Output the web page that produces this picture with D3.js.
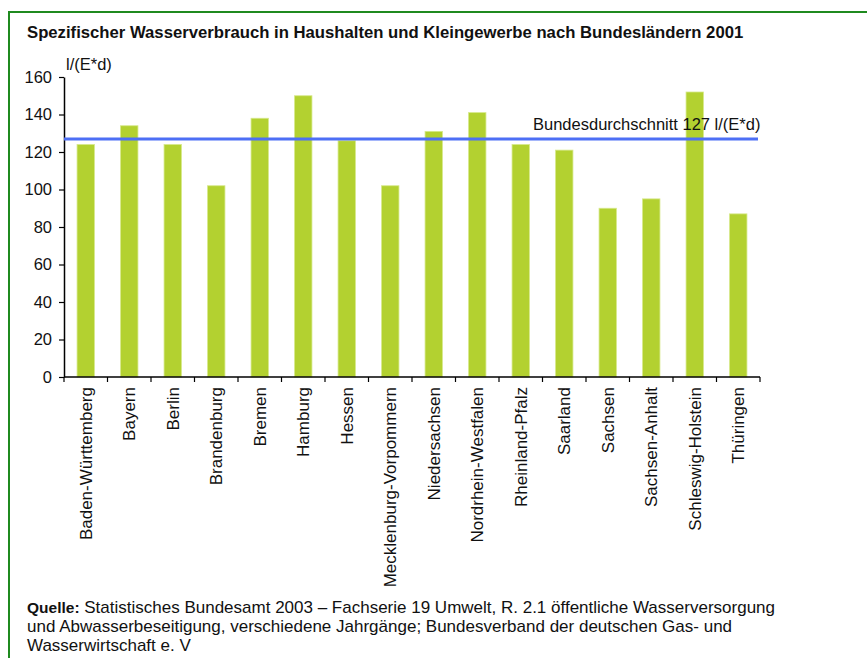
<!DOCTYPE html>
<html>
<head>
<meta charset="utf-8">
<script src="https://cdn.jsdelivr.net/npm/d3@7"></script>
<style>
  body { margin: 0; background: #fff; }
  svg { display: block; font-family: "Liberation Sans", Arial, sans-serif; }
</style>
</head>
<body>
<div id="chart"></div>
<script>
// data
const laender = ["Baden-Württemberg", "Bayern", "Berlin", "Brandenburg", "Bremen", "Hamburg", "Hessen",
  "Mecklenburg-Vorpommern", "Niedersachsen", "Nordrhein-Westfalen", "Rheinland-Pfalz", "Saarland",
  "Sachsen", "Sachsen-Anhalt", "Schleswig-Holstein", "Thüringen"];
const verbrauch = [124, 134, 124, 102, 138, 150, 126, 102, 131, 141, 124, 121, 90, 95, 152, 87];
const durchschnitt = 127;
const yTicks = [0, 20, 40, 60, 80, 100, 120, 140, 160];

const width = 867, height = 658;
const margin = {left: 64, right: 107, top: 77, bottom: 280};

const svg = d3.select("#chart").append("svg")
  .attr("width", width)
  .attr("height", height);

// green frame (top + left edge only visible)
svg.append("line").attr("x1", 8).attr("x2", width).attr("y1", 12).attr("y2", 12)
  .attr("stroke", "#1f8a1f").attr("stroke-width", 2);
svg.append("line").attr("x1", 9).attr("x2", 9).attr("y1", 12).attr("y2", height)
  .attr("stroke", "#1f8a1f").attr("stroke-width", 2);

svg.append("text")
  .attr("x", 27).attr("y", 38)
  .attr("font-size", "16.7px")
  .attr("font-weight", "bold")
  .attr("fill", "#111")
  .text("Spezifischer Wasserverbrauch in Haushalten und Kleingewerbe nach Bundesländern 2001");

const x = d3.scaleBand()
  .domain(laender)
  .range([margin.left, width - margin.right])
  .paddingInner(0.6)
  .paddingOuter(0.3);

const y = d3.scaleLinear()
  .domain([0, 160])
  .range([height - margin.bottom - 1, margin.top]);

// bars
svg.append("g")
  .selectAll("rect")
  .data(verbrauch)
  .join("rect")
  .attr("x", (d, i) => x(laender[i]))
  .attr("y", d => y(d))
  .attr("width", x.bandwidth())
  .attr("height", d => y(0) - y(d))
  .attr("fill", "#b3d130")
  .attr("stroke", "#d6e98a")
  .attr("stroke-width", 0.8);

// y axis
const gY = svg.append("g")
  .attr("transform", "translate(" + margin.left + ",0)")
  .call(d3.axisLeft(y).tickValues(yTicks).tickSize(5).tickSizeOuter(0));
gY.select(".domain").attr("stroke", "#000").attr("stroke-width", 1.5);
gY.selectAll(".tick line").attr("stroke", "#000").attr("stroke-width", 1.2);
gY.selectAll(".tick text")
  .attr("x", -12)
  .attr("font-size", "16.5px")
  .attr("font-family", "Liberation Sans, Arial, sans-serif")
  .attr("fill", "#111");

svg.append("text")
  .attr("x", 66).attr("y", 70)
  .attr("font-size", "16.5px")
  .attr("fill", "#111")
  .text("l/(E*d)");

// x axis, ticks between categories
const gX = svg.append("g")
  .attr("transform", "translate(0," + y(0) + ")");
gX.append("line")
  .attr("x1", margin.left).attr("x2", width - margin.right)
  .attr("stroke", "#000").attr("stroke-width", 1.5);
const tickPos = d3.range(laender.length + 1).map(i => margin.left + i * (width - margin.left - margin.right) / laender.length);
gX.selectAll(".tk")
  .data(tickPos)
  .join("line")
  .attr("class", "tk")
  .attr("x1", d => d).attr("x2", d => d)
  .attr("y1", 0).attr("y2", 5)
  .attr("stroke", "#000").attr("stroke-width", 1.2);
gX.selectAll(".lbl")
  .data(laender)
  .join("text")
  .attr("class", "lbl")
  .attr("transform", d => "translate(" + (x(d) + x.bandwidth() / 2 + 6) + ",10) rotate(-90)")
  .attr("text-anchor", "end")
  .attr("font-size", "17px")
  .attr("fill", "#111")
  .text(d => d);

// average line
svg.append("line")
  .attr("x1", margin.left).attr("x2", width - margin.right - 2)
  .attr("y1", y(durchschnitt)).attr("y2", y(durchschnitt))
  .attr("stroke", "#4d6ff5")
  .attr("stroke-width", 3);
svg.append("text")
  .attr("x", 533).attr("y", y(durchschnitt) - 9)
  .attr("font-size", "16.5px")
  .attr("fill", "#111")
  .text("Bundesdurchschnitt " + durchschnitt + " l/(E*d)");

// source
const quelle = svg.append("g")
  .attr("font-family", "Liberation Sans Narrow, Arial Narrow, sans-serif")
  .attr("font-size", "17px")
  .attr("fill", "#111");
const l1 = quelle.append("text").attr("x", 27).attr("y", 613);
l1.append("tspan").attr("font-weight", "bold").attr("font-family", "Liberation Sans, Arial, sans-serif").attr("font-size", "15.5px").text("Quelle:");
l1.append("tspan").text(" Statistisches Bundesamt 2003 –  Fachserie 19 Umwelt, R. 2.1 öffentliche Wasserversorgung");
quelle.append("text").attr("x", 27).attr("y", 632)
  .text("und Abwasserbeseitigung, verschiedene Jahrgänge; Bundesverband der deutschen Gas- und");
quelle.append("text").attr("x", 27).attr("y", 651)
  .text("Wasserwirtschaft e. V");
</script>
</body>
</html>
